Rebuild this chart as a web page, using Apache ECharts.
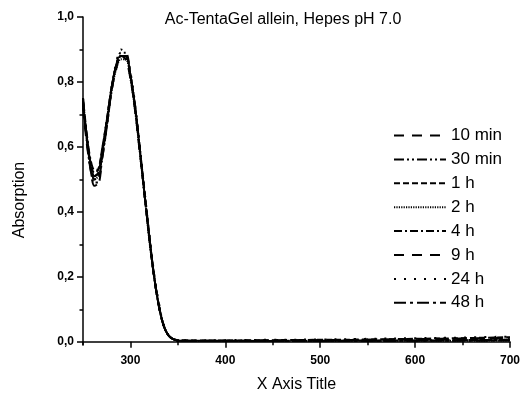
<!DOCTYPE html>
<html>
<head>
<meta charset="utf-8">
<script src="https://cdn.jsdelivr.net/npm/echarts@6/dist/echarts.min.js"></script>
<style>
  html, body { margin: 0; padding: 0; background: #fff; }
  #chart { width: 523px; height: 394px; }
</style>
</head>
<body>
<div id="chart"></div>
<script>
// Wavelength grid (nm) shared by all spectra
const wavelength = [250,254,258,262,266,270,275,280,285,290,295,300,305,310,315,320,325,330,335,340,345,350,375,400,450,500,550,600,650,700];

// Absorption spectra recorded at each time point
const abs10min = [0.74,0.63,0.55,0.51,0.52,0.58,0.68,0.78,0.85,0.88,0.87,0.81,0.71,0.58,0.45,0.32,0.20,0.11,0.05,0.02,0.008,0.004,0.003,0.003,0.004,0.005,0.006,0.008,0.010,0.012];
const abs30min = [0.75,0.62,0.53,0.49,0.49,0.56,0.66,0.77,0.85,0.89,0.89,0.82,0.72,0.59,0.45,0.32,0.20,0.11,0.05,0.02,0.008,0.004,0.002,0.002,0.002,0.003,0.003,0.004,0.005,0.006];
const abs1h    = [0.73,0.63,0.55,0.52,0.53,0.59,0.68,0.78,0.85,0.88,0.88,0.82,0.72,0.59,0.46,0.32,0.20,0.11,0.05,0.02,0.009,0.005,0.004,0.004,0.005,0.006,0.007,0.009,0.011,0.014];
const abs2h    = [0.74,0.62,0.54,0.50,0.51,0.57,0.67,0.77,0.84,0.87,0.87,0.81,0.71,0.58,0.45,0.31,0.20,0.11,0.05,0.02,0.008,0.003,0.002,0.002,0.002,0.002,0.003,0.003,0.003,0.004];
const abs4h    = [0.75,0.64,0.56,0.53,0.53,0.59,0.68,0.78,0.85,0.88,0.88,0.82,0.72,0.59,0.45,0.32,0.20,0.11,0.05,0.02,0.008,0.004,0.003,0.003,0.003,0.003,0.004,0.004,0.005,0.006];
const abs9h    = [0.72,0.61,0.53,0.48,0.49,0.56,0.66,0.77,0.84,0.88,0.88,0.82,0.72,0.59,0.45,0.32,0.20,0.11,0.05,0.02,0.008,0.004,0.003,0.003,0.004,0.005,0.006,0.008,0.009,0.011];
const abs24h   = [0.75,0.63,0.55,0.51,0.52,0.58,0.67,0.78,0.86,0.90,0.89,0.83,0.73,0.60,0.46,0.33,0.21,0.12,0.05,0.02,0.009,0.005,0.004,0.005,0.006,0.007,0.009,0.011,0.013,0.016];
const abs48h   = [0.74,0.63,0.54,0.50,0.51,0.57,0.67,0.78,0.85,0.88,0.88,0.82,0.72,0.59,0.45,0.32,0.20,0.11,0.05,0.02,0.008,0.003,0.002,0.002,0.002,0.002,0.002,0.003,0.003,0.004];

const seriesNames = ['10 min','30 min','1 h','2 h','4 h','9 h','24 h','48 h'];
const seriesValues = [abs10min, abs30min, abs1h, abs2h, abs4h, abs9h, abs24h, abs48h];

// Tick positions
const xMajorTicks = [300,400,500,600,700];
const xMinorTicks = [250,350,450,550,650];
const yMajorTicks = [0,0.2,0.4,0.6,0.8,1.0];
const yMinorTicks = [0.1,0.3,0.5,0.7,0.9];

// Line dash pattern per series
const dashes = [
  [10,8],
  [10,3,2,3,2,3],
  [6,3],
  [1.2,1.2],
  [8,3,2,3],
  [10,8],
  [2,8],
  [12,4,3,4]
];

const FONT = 'Arial, "Liberation Sans", sans-serif';

const chart = echarts.init(document.getElementById('chart'), null, { renderer: 'canvas' });

const series = seriesNames.map((name, i) => ({
  name: name,
  type: 'line',
  xAxisIndex: 0,
  yAxisIndex: 0,
  symbol: 'none',
  smooth: 0.35,
  animation: false,
  data: wavelength.map((w, k) => [w, seriesValues[i][k]]),
  lineStyle: { color: '#000', width: 2, type: dashes[i] },
  itemStyle: { color: '#000' }
}));

const axisLineStyle = { color: '#000', width: 1.5 };
const yMin = -0.01, yMax = 1.0;

chart.setOption({
  backgroundColor: '#fff',
  animation: false,
  textStyle: { fontFamily: FONT },
  grid: { left: 83, right: 13, top: 17, bottom: 49, containLabel: false, outerBoundsMode: 'none' },
  graphic: [
    {
      type: 'text', x: 283, y: 20,
      style: { text: 'Ac-TentaGel allein, Hepes pH 7.0', font: '16px ' + FONT, fill: '#000', align: 'center', verticalAlign: 'middle' }
    },
    {
      type: 'text', x: 20, y: 200, rotation: Math.PI / 2,
      style: { text: 'Absorption', font: '16px ' + FONT, fill: '#000', align: 'center', verticalAlign: 'middle' }
    }
  ],
  legend: {
    orient: 'vertical',
    left: 393,
    top: 127,
    padding: 0,
    itemWidth: 52,
    itemHeight: 16,
    itemGap: 6.9,
    data: seriesNames,
    itemStyle: { color: 'rgba(0,0,0,0)', borderColor: 'rgba(0,0,0,0)', borderWidth: 0 },
    textStyle: { color: '#000', fontSize: 17, fontFamily: FONT, lineHeight: 16 }
  },
  xAxis: [
    {
      type: 'value', min: 250, max: 700,
      name: 'X Axis Title', nameLocation: 'middle', nameGap: 32,
      nameTextStyle: { color: '#000', fontSize: 16, fontFamily: FONT },
      axisLine: { show: true, lineStyle: axisLineStyle },
      axisTick: { show: true, length: 6, inside: false, customValues: xMajorTicks, lineStyle: axisLineStyle },
      axisLabel: { show: true, customValues: xMajorTicks, margin: 10, color: '#000', fontWeight: 'bold', fontSize: 12, fontFamily: FONT },
      splitLine: { show: false }
    },
    {
      type: 'value', min: 250, max: 700, position: 'bottom', offset: 0,
      axisLine: { show: false },
      axisTick: { show: true, length: 3.5, inside: false, customValues: xMinorTicks, lineStyle: axisLineStyle },
      axisLabel: { show: false },
      splitLine: { show: false }
    }
  ],
  yAxis: [
    {
      type: 'value', min: yMin, max: yMax,
      axisLine: { show: true, lineStyle: axisLineStyle },
      axisTick: { show: true, length: 6, inside: false, customValues: yMajorTicks, lineStyle: axisLineStyle },
      axisLabel: {
        show: true, customValues: yMajorTicks, margin: 9, color: '#000', fontWeight: 'bold', fontSize: 12, fontFamily: FONT,
        formatter: v => v.toFixed(1).replace('.', ',')
      },
      splitLine: { show: false }
    },
    {
      type: 'value', min: yMin, max: yMax, position: 'left', offset: 0,
      axisLine: { show: false },
      axisTick: { show: true, length: 3.5, inside: false, customValues: yMinorTicks, lineStyle: axisLineStyle },
      axisLabel: { show: false },
      splitLine: { show: false }
    }
  ],
  series: series
});
</script>
</body>
</html>
